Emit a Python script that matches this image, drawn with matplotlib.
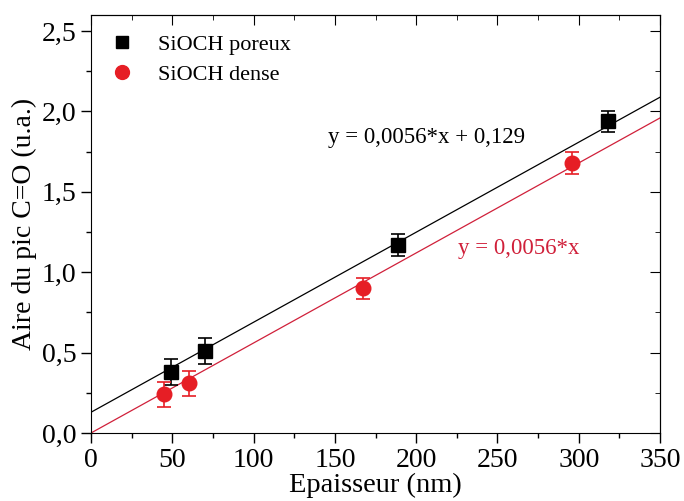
import matplotlib
matplotlib.use('Agg')
import matplotlib.pyplot as plt
import numpy as np
from matplotlib.ticker import MultipleLocator, FuncFormatter

# données
x_poreux = [49, 70, 189, 318]
y_poreux = [0.38, 0.51, 1.17, 1.94]
err_poreux = [0.08, 0.078, 0.07, 0.065]

x_dense = [45, 60, 167, 296]
y_dense = [0.24, 0.31, 0.90, 1.68]
err_dense = [0.08, 0.078, 0.065, 0.07]

# ajustements linéaires (pente, ordonnée)
fit_poreux = (0.0056, 0.129)
fit_dense = (0.0056, 0.0)

plt.rcParams['font.family'] = ['Liberation Serif', 'DejaVu Serif']

fig = plt.figure(figsize=(6.84, 5.01), dpi=100)
ax = fig.add_axes([0.133, 0.1357, 0.832, 0.8343])

xf = np.array([0, 350])
ax.plot(xf, fit_poreux[0] * xf + fit_poreux[1], color='black', lw=0.9, zorder=1)
ax.plot(xf, fit_dense[0] * xf + fit_dense[1], color='#d0203a', lw=0.9, zorder=1)

ax.errorbar(x_poreux, y_poreux, yerr=err_poreux, fmt='s', color='black',
            ms=9.5, capsize=5, elinewidth=1.2, capthick=1.2, label='SiOCH poreux', zorder=3)
ax.errorbar(x_dense, y_dense, yerr=err_dense, fmt='o', color='#e61e25',
            ms=10.5, capsize=5, elinewidth=1.2, capthick=1.2, label='SiOCH dense', zorder=3)

ax.text(145.5, 1.84, 'y = 0,0056*x + 0,129', fontsize=16.5, color='black', va='center')
ax.text(225.5, 1.15, 'y = 0,0056*x', fontsize=16.5, color='#d0203a', va='center')

ax.set_xlim(0, 350)
ax.set_ylim(0, 2.6)
ax.xaxis.set_major_locator(MultipleLocator(50))
ax.xaxis.set_minor_locator(MultipleLocator(25))
ax.yaxis.set_major_locator(MultipleLocator(0.5))
ax.yaxis.set_minor_locator(MultipleLocator(0.25))
ax.yaxis.set_major_formatter(FuncFormatter(lambda v, p: ('%.1f' % v).replace('.', ',')))

ax.tick_params(axis='both', which='major', labelsize=20, length=7, width=1)
ax.tick_params(axis='both', which='minor', length=3.5, width=1)
ax.tick_params(axis='both', which='both', direction='out', top=False, right=False)
# ticks intérieurs en haut et à droite
ax2 = ax.secondary_xaxis('top')
ax2.xaxis.set_major_locator(MultipleLocator(50))
ax2.xaxis.set_minor_locator(MultipleLocator(25))
ax2.tick_params(which='major', direction='in', length=7, labeltop=False)
ax2.tick_params(which='minor', direction='in', length=3.5)
ax2.set_xticklabels([])
ax3 = ax.secondary_yaxis('right')
ax3.yaxis.set_major_locator(MultipleLocator(0.5))
ax3.yaxis.set_minor_locator(MultipleLocator(0.25))
ax3.tick_params(which='major', direction='in', length=7)
ax3.tick_params(which='minor', direction='in', length=3.5)
ax3.set_yticklabels([])

ax.set_xlabel('Epaisseur (nm)', fontsize=20.5, labelpad=0)
ax.set_ylabel('Aire du pic C=O (u.a.)', fontsize=20, labelpad=3)

handles, labels = ax.get_legend_handles_labels()
handles = [h[0] for h in handles]
ax.legend(handles, labels, loc='upper left', frameon=False, fontsize=16,
          handletextpad=0.8, handlelength=1.6, borderaxespad=0.2, labelspacing=0.4,
          markerscale=0.95, bbox_to_anchor=(0.0, 0.985))

fig.savefig('out.png', dpi=100)
